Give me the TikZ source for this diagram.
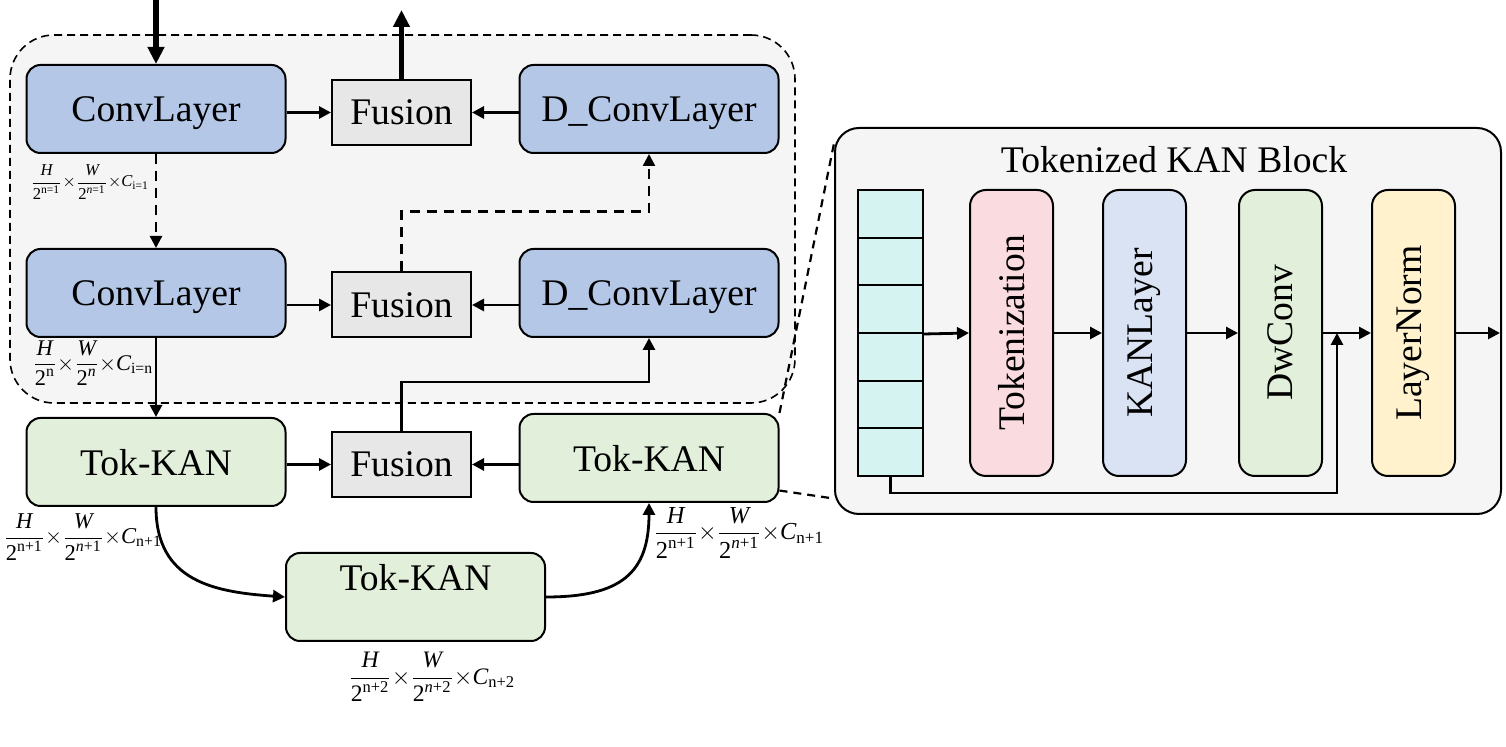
\documentclass[tikz,border=0pt]{standalone}
\usepackage{fontspec}
\setmainfont{Liberation Serif}
\usepackage{amsmath}
\usepackage{graphicx}
\usetikzlibrary{positioning}
\usetikzlibrary{arrows.meta}

\definecolor{convblue}{HTML}{B4C7E7}
\definecolor{fusegray}{HTML}{E7E7E7}
\definecolor{tokgreen}{HTML}{E2EFDA}
\definecolor{panelgray}{HTML}{F5F5F5}
\definecolor{cellcyan}{HTML}{D5F3F1}
\definecolor{tokpink}{HTML}{FADBDF}
\definecolor{kanblue}{HTML}{DAE3F3}
\definecolor{normyellow}{HTML}{FFF2CC}

\newcommand{\featsize}[3]{$\dfrac{\textit{H}}{\text{2}^{\text{#1}}}{\times}\dfrac{\textit{W}}{\text{2}^{\text{#2}}}{\times}\textit{C}_{\text{#3}}$}

\begin{document}
\begin{tikzpicture}[x=0.5pt, y=-0.5pt, font=\fontsize{18.8}{22}\selectfont,
    >={Triangle[length=6pt,width=6pt]},
    layerbox/.style={rectangle, rounded corners=7pt, minimum width=129.5pt, minimum height=44pt, draw=black, line width=1pt, text depth=0pt},
    fusionbox/.style={rectangle, minimum width=69.5pt, minimum height=32.5pt, draw=black, line width=1pt, fill=fusegray},
    blockbox/.style={rectangle, rounded corners=8pt, minimum width=41.5pt, minimum height=143pt, draw=black, line width=1pt},
    cellbox/.style={rectangle, minimum width=32.5pt, minimum height=23.83pt, draw=black, line width=1pt, fill=cellcyan},
    sizelabel/.style={anchor=west, inner sep=0pt},
    flow/.style={->, line width=1.4pt},
    bigflow/.style={line width=2.6pt, -{Triangle[length=8.5pt,width=8pt]}},
    dashflow/.style={->, line width=1.2pt, dash pattern=on 5pt off 3.5pt},
    zoomline/.style={line width=1.1pt, dash pattern=on 4pt off 3pt}]
    \useasboundingbox (0,0) rectangle (1506,747);

    \begin{scope}
    \node (encoder) [rectangle, rounded corners=22pt, draw=black, line width=0.8pt, dash pattern=on 4pt off 2.5pt, fill=panelgray, minimum width=392.5pt, minimum height=184pt] at (402.5,219) {};

    \node (conv1) [layerbox, fill=convblue] at (156,109) {ConvLayer};
    \node (conv2) [layerbox, fill=convblue, below=47pt of conv1] {ConvLayer};
    \node (tok1) [layerbox, fill=tokgreen, below=39.5pt of conv2] {Tok-KAN};
    \node (dconv1) [layerbox, fill=convblue] at (649,109) {D\_ConvLayer};
    \node (dconv2) [layerbox, fill=convblue, below=47pt of dconv1] {D\_ConvLayer};
    \node (tok2) [layerbox, fill=tokgreen, below=37.5pt of dconv2] {Tok-KAN};
    \node (tok3) [layerbox, fill=tokgreen, inner sep=2pt, text depth=20pt] at (415.5,597) {Tok-KAN};
    \node (fusion1) [fusionbox] at (401.5,112.5) {Fusion};
    \node (fusion2) [fusionbox] at (401.5,305) {Fusion};
    \node (fusion3) [fusionbox] at (401.5,464.5) {Fusion};

    \node (size1) [sizelabel, font=\fontsize{8.3}{10}\selectfont] at (30,182) {\featsize{n=1}{\textit{n}=1}{i=1}};
    \node (size2) [sizelabel, font=\fontsize{11.2}{13}\selectfont] at (32,363) {\featsize{n}{\textit{n}}{i=n}};
    \node (size3) [sizelabel, font=\fontsize{11.3}{13}\selectfont] at (3,537) {\featsize{n+1}{\textit{n}+1}{n+1}};
    \node (size4) [sizelabel, font=\fontsize{12.2}{14}\selectfont] at (653,533) {\featsize{n+1}{\textit{n}+1}{n+1}};
    \node (size5) [sizelabel, font=\fontsize{11.8}{14}\selectfont] at (348,677) {\featsize{n+2}{\textit{n}+2}{n+2}};

    \coordinate (input) at (156,0);
    \coordinate (output) at (401.5,10);
    \draw [bigflow] (input) -- (conv1.north);
    \draw [bigflow] (fusion1.north) -- (output);

    \draw [flow] (conv1.east |- fusion1.west) -- (fusion1.west);
    \draw [flow] (dconv1.west |- fusion1.east) -- (fusion1.east);
    \draw [flow] (conv2.east |- fusion2.west) -- (fusion2.west);
    \draw [flow] (dconv2.west |- fusion2.east) -- (fusion2.east);
    \draw [flow] (tok1.east |- fusion3.west) -- (fusion3.west);
    \draw [flow] (tok2.west |- fusion3.east) -- (fusion3.east);

    \draw [dashflow] (conv1.south) -- (conv2.north);
    \draw [dashflow] (fusion2.north) -- ++(0,-60) -| (dconv1.south);
    \draw [flow] (conv2.south) -- (tok1.north);
    \draw [flow] (fusion3.north) -- ++(0,-49) -| (dconv2.south);

    \draw [flow] (tok1.south) .. controls +(0,75) and +(-70,-5) .. (tok3.west);
    \draw [flow] (tok3.east) .. controls +(75,0) and +(0,70) .. (tok2.south);
    \end{scope}

    \begin{scope}
    \node (panel) [rectangle, rounded corners=12pt, draw=black, line width=1pt, fill=panelgray, minimum width=333pt, minimum height=193pt] at (1168,321) {};
    \node (title) at (1174,160) {Tokenized KAN Block};

    \foreach \i in {0,...,5}
        \node (cell\i) [cellbox] at (890.5,{213.83+47.67*\i}) {};

    \node (tokz) [blockbox, fill=tokpink] at (1011.5,333) {\rotatebox{90}{Tokenization}};
    \node (kanl) [blockbox, fill=kanblue, right=24pt of tokz] {\rotatebox{90}{KANLayer}};
    \node (dwconv) [blockbox, fill=tokgreen, right=25.5pt of kanl] {\rotatebox{90}{DwConv}};
    \node (lnorm) [blockbox, fill=normyellow, right=24pt of dwconv] {\rotatebox{90}{LayerNorm}};

    \coordinate (merge) at (1337,333);
    \coordinate (blockout) at (1500,333);
    \draw [flow] (cell2.south east) -- (tokz.west);
    \draw [flow] (tokz.east) -- (kanl.west);
    \draw [flow] (kanl.east) -- (dwconv.west);
    \draw [flow] (dwconv.east) -- (lnorm.west);
    \draw [flow] (lnorm.east) -- (blockout);
    \draw [flow] (cell5.south) -- ++(0,16) -| (merge);
    \end{scope}

    \draw [zoomline] (tok2.north east) -- (panel.152);
    \draw [zoomline] (tok2.-14) -- (panel.208);
\end{tikzpicture}
\end{document}
